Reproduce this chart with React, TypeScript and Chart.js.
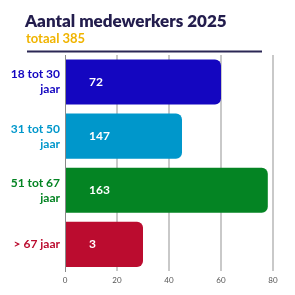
import React, { useEffect, useRef } from "react";
import { Chart, registerables } from "chart.js";

Chart.register(...registerables);

const TITLE = "Aantal medewerkers 2025";
const SUBTITLE = "totaal 385";
const CATEGORIES: string[][] = [
  ["18 tot 30", "jaar"],
  ["31 tot 50", "jaar"],
  ["51 tot 67", "jaar"],
  ["> 67 jaar"],
];
const BAR_LENGTHS = [60, 45, 78, 30];
const BAR_LABELS = ["72", "147", "163", "3"];
const COLORS = ["#1406c0", "#0097cb", "#048423", "#bb0c2f"];
const X_TICKS = [0, 20, 40, 60, 80];

const FONT = "Lato, 'Open Sans', sans-serif";

const headerPlugin = {
  id: "header",
  beforeDraw(chart: any) {
    const ctx = chart.ctx;
    ctx.save();
    ctx.textAlign = "left";
    ctx.textBaseline = "alphabetic";
    ctx.fillStyle = "#231d4d";
    ctx.font = `800 17px ${FONT}`;
    ctx.fillText(TITLE, 25, 27);
    ctx.fillStyle = "#f0b400";
    ctx.font = `bold 13px ${FONT}`;
    ctx.fillText(SUBTITLE, 26, 43);
    ctx.strokeStyle = "#2b2755";
    ctx.lineWidth = 2;
    ctx.beginPath();
    ctx.moveTo(27, 51.5);
    ctx.lineTo(262, 51.5);
    ctx.stroke();
    ctx.restore();
  },
};

const valueLabelPlugin = {
  id: "valueLabels",
  afterDatasetsDraw(chart: any) {
    const ctx = chart.ctx;
    const meta = chart.getDatasetMeta(0);
    ctx.save();
    ctx.fillStyle = "#ffffff";
    ctx.font = `bold 12px ${FONT}`;
    ctx.textAlign = "left";
    ctx.textBaseline = "middle";
    meta.data.forEach((bar: any, i: number) => {
      ctx.fillText(BAR_LABELS[i], chart.chartArea.left + 24, bar.y);
    });
    ctx.restore();
  },
};

export default function App() {
  const ref = useRef<HTMLCanvasElement>(null);
  useEffect(() => {
    if (!ref.current) return;
    const chart = new Chart(ref.current, {
      type: "bar",
      data: {
        labels: CATEGORIES,
        datasets: [
          {
            data: BAR_LENGTHS,
            backgroundColor: COLORS,
            borderRadius: 6,
            borderSkipped: "start",
            categoryPercentage: 1,
            barPercentage: 45 / 54,
          },
        ],
      },
      options: {
        indexAxis: "y",
        animation: false,
        responsive: true,
        maintainAspectRatio: false,
        layout: { padding: { top: 55, right: 22, bottom: 6, left: 0 } },
        plugins: {
          legend: { display: false },
          tooltip: { enabled: false },
        },
        scales: {
          x: {
            min: 0,
            max: 80,
            afterBuildTicks: (scale: any) => {
              scale.ticks = X_TICKS.map((v) => ({ value: v }));
            },
            border: { display: false },
            grid: {
              drawTicks: false,
              lineWidth: 2,
              color: (c: any) => (c.tick && c.tick.value === 0 ? "rgba(0,0,0,0)" : "#c9c9c9"),
            },
            ticks: {
              padding: 4,
              color: "#555555",
              font: { family: FONT, size: 8 },
            },
          },
          y: {
            afterFit: (scale: any) => {
              scale.width = 65;
            },
            border: { display: true, color: "#8a8a8a", width: 1 },
            grid: { display: false, drawTicks: false },
            ticks: {
              padding: 5,
              color: (c: any) => COLORS[c.index],
              font: { family: FONT, size: 12, weight: "bold", lineHeight: 1.25 },
            },
          },
        },
      },
      plugins: [headerPlugin, valueLabelPlugin],
    });
    return () => chart.destroy();
  }, []);
  return (
    <div style={{ position: "fixed", left: 0, top: 0, width: 295, height: 295, background: "#fff" }}>
      <canvas ref={ref} />
    </div>
  );
}
